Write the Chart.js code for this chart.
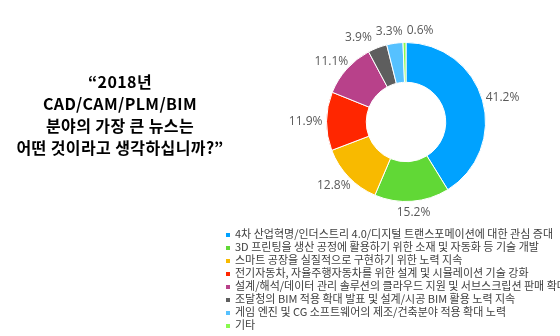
<!DOCTYPE html>
<html>
<head>
<meta charset="utf-8">
<script src="https://cdn.jsdelivr.net/npm/chart.js@4"></script>
<style>
  html, body { margin: 0; padding: 0; background: #fff; }
  #wrap { position: relative; width: 560px; height: 336px; overflow: hidden; }
  #chart { position: absolute; left: 0; top: 0; }
  #title {
    position: absolute; left: 0; top: 70px; width: 240px;
    text-align: center; font: bold 16px "Noto Sans CJK KR"; line-height: 22px; color: #000;
    letter-spacing: 0.4px;
  }
  #legend { position: absolute; left: 226px; top: 225px; margin: 0; padding: 0; list-style: none; white-space: nowrap; }
  #legend li { height: 13px; line-height: 13px; font: 11px "Noto Sans CJK KR"; color: #404040; }
  #legend span { display: inline-block; width: 4px; height: 4px; margin-right: 5px; vertical-align: 1px; }
</style>
</head>
<body>
<div id="wrap">
  <canvas id="chart" width="560" height="336"></canvas>
  <div id="title">“2018년<br>CAD/CAM/PLM/BIM<br>분야의 가장 큰 뉴스는<br>어떤 것이라고 생각하십니까?”</div>
  <ul id="legend"></ul>
</div>
<script>
const categories = [
  "4차 산업혁명/인더스트리 4.0/디지털 트랜스포메이션에 대한 관심 증대",
  "3D 프린팅을 생산 공정에 활용하기 위한 소재 및 자동화 등 기술 개발",
  "스마트 공장을 실질적으로 구현하기 위한 노력 지속",
  "전기자동차, 자율주행자동차를 위한 설계 및 시뮬레이션 기술 강화",
  "설계/해석/데이터 관리 솔루션의 클라우드 지원 및 서브스크립션 판매 확대",
  "조달청의 BIM 적용 확대 발표 및 설계/시공 BIM 활용 노력 지속",
  "게임 엔진 및 CG 소프트웨어의 제조/건축분야 적용 확대 노력",
  "기타"
];
const shares = [41.2, 15.2, 12.8, 11.9, 11.1, 3.9, 3.3, 0.6];
const colors = ["#00a2ff", "#61d836", "#f8ba00", "#ff2600", "#b8418a", "#5e5e5e", "#56c1ff", "#88fa4e"];

// percentage labels outside each slice, nudged apart when they collide
const outsideLabels = {
  id: "outsideLabels",
  afterDatasetsDraw(chart) {
    const ctx = chart.ctx;
    const meta = chart.getDatasetMeta(0);
    ctx.save();
    ctx.font = "12px 'Open Sans'";
    ctx.fillStyle = "#595959";
    ctx.textAlign = "center";
    ctx.textBaseline = "middle";
    const h = 13;
    const boxes = meta.data.map((arc, i) => {
      const p = arc.getProps(["x", "y", "startAngle", "endAngle", "outerRadius"], true);
      const mid = (p.startAngle + p.endAngle) / 2;
      const dx = Math.cos(mid), dy = Math.sin(mid);
      const text = shares[i].toFixed(1) + "%";
      const w = ctx.measureText(text).width;
      return {
        text, w,
        x: p.x + dx * (p.outerRadius + 4) + dx * w / 2,
        y: p.y + dy * (p.outerRadius + 5) + dy * h / 2
      };
    });
    for (let pass = 0; pass < 10; pass++) {
      for (let i = 1; i < boxes.length; i++) {
        const a = boxes[i - 1], b = boxes[i];
        if (Math.abs(a.y - b.y) >= h) continue;
        const d = (a.w + b.w) / 2 + 4 - Math.abs(b.x - a.x);
        if (d > 0) {
          const s = b.x >= a.x ? 1 : -1;
          a.x -= s * d / 2;
          b.x += s * d / 2;
        }
      }
    }
    boxes.forEach(b => ctx.fillText(b.text, b.x, b.y));
    ctx.restore();
  }
};

const chart = new Chart(document.getElementById("chart"), {
  type: "doughnut",
  data: {
    labels: categories,
    datasets: [{
      data: shares,
      backgroundColor: colors,
      borderColor: "#ffffff",
      borderWidth: 1,
      hoverOffset: 0
    }]
  },
  options: {
    responsive: false,
    animation: false,
    cutout: "50%",
    layout: { padding: { left: 326, right: 74, top: 42, bottom: 134 } },
    plugins: {
      legend: { display: false },
      tooltip: { enabled: false }
    }
  },
  plugins: [outsideLabels]
});

// legend as html list, built from the chart's own label items
const legendEl = document.getElementById("legend");
chart.options.plugins.legend.labels.generateLabels(chart).forEach(item => {
  const li = document.createElement("li");
  const box = document.createElement("span");
  box.style.background = item.fillStyle;
  li.appendChild(box);
  li.appendChild(document.createTextNode(item.text));
  legendEl.appendChild(li);
});
</script>
</body>
</html>
